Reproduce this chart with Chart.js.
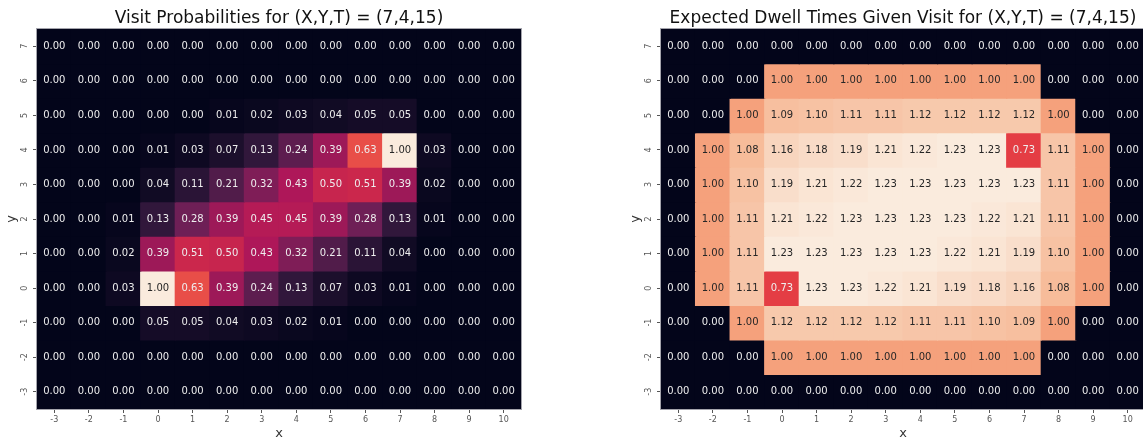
<!DOCTYPE html>
<html>
<head>
<meta charset="utf-8">
<script src="https://cdn.jsdelivr.net/npm/chart.js@4"></script>
<style>
  body { margin: 0; width: 1143px; height: 441px; overflow: hidden; background: #fff; position: relative; }
  .box { position: absolute; top: 0; height: 441px; }
</style>
</head>
<body>
<div class="box" style="left:0;width:560px"><canvas id="probChart" width="560" height="441"></canvas></div>
<div class="box" style="left:610px;width:535px"><canvas id="dwellChart" width="535" height="441"></canvas></div>
<script>
// grid labels
const xLabels = ["-3", "-2", "-1", "0", "1", "2", "3", "4", "5", "6", "7", "8", "9", "10"];
const yLabels = [7, 6, 5, 4, 3, 2, 1, 0, -1, -2, -3];

// visit probabilities, rows from y=7 down to y=-3
const visitProb = [
  [0, 0, 0, 0, 0, 0, 0, 0, 0, 0, 0, 0, 0, 0],
  [0, 0, 0, 0, 0, 0, 0, 0, 0, 0, 0, 0, 0, 0],
  [0, 0, 0, 0, 0, 0.01, 0.02, 0.03, 0.04, 0.05, 0.05, 0, 0, 0],
  [0, 0, 0, 0.01, 0.03, 0.07, 0.13, 0.24, 0.39, 0.63, 1.00, 0.03, 0, 0],
  [0, 0, 0, 0.04, 0.11, 0.21, 0.32, 0.43, 0.50, 0.51, 0.39, 0.02, 0, 0],
  [0, 0, 0.01, 0.13, 0.28, 0.39, 0.45, 0.45, 0.39, 0.28, 0.13, 0.01, 0, 0],
  [0, 0, 0.02, 0.39, 0.51, 0.50, 0.43, 0.32, 0.21, 0.11, 0.04, 0, 0, 0],
  [0, 0, 0.03, 1.00, 0.63, 0.39, 0.24, 0.13, 0.07, 0.03, 0.01, 0, 0, 0],
  [0, 0, 0, 0.05, 0.05, 0.04, 0.03, 0.02, 0.01, 0, 0, 0, 0, 0],
  [0, 0, 0, 0, 0, 0, 0, 0, 0, 0, 0, 0, 0, 0],
  [0, 0, 0, 0, 0, 0, 0, 0, 0, 0, 0, 0, 0, 0]
];

// expected dwell times given visit
const dwellTime = [
  [0, 0, 0, 0, 0, 0, 0, 0, 0, 0, 0, 0, 0, 0],
  [0, 0, 0, 1.00, 1.00, 1.00, 1.00, 1.00, 1.00, 1.00, 1.00, 0, 0, 0],
  [0, 0, 1.00, 1.09, 1.10, 1.11, 1.11, 1.12, 1.12, 1.12, 1.12, 1.00, 0, 0],
  [0, 1.00, 1.08, 1.16, 1.18, 1.19, 1.21, 1.22, 1.23, 1.23, 0.73, 1.11, 1.00, 0],
  [0, 1.00, 1.10, 1.19, 1.21, 1.22, 1.23, 1.23, 1.23, 1.23, 1.23, 1.11, 1.00, 0],
  [0, 1.00, 1.11, 1.21, 1.22, 1.23, 1.23, 1.23, 1.23, 1.22, 1.21, 1.11, 1.00, 0],
  [0, 1.00, 1.11, 1.23, 1.23, 1.23, 1.23, 1.23, 1.22, 1.21, 1.19, 1.10, 1.00, 0],
  [0, 1.00, 1.11, 0.73, 1.23, 1.23, 1.22, 1.21, 1.19, 1.18, 1.16, 1.08, 1.00, 0],
  [0, 0, 1.00, 1.12, 1.12, 1.12, 1.12, 1.11, 1.11, 1.10, 1.09, 1.00, 0, 0],
  [0, 0, 0, 1.00, 1.00, 1.00, 1.00, 1.00, 1.00, 1.00, 1.00, 0, 0, 0],
  [0, 0, 0, 0, 0, 0, 0, 0, 0, 0, 0, 0, 0, 0]
];

// rocket colormap anchors
const rocketStops = [
  [0, [3, 5, 26]],
  [1 / 7, [53, 25, 62]],
  [2 / 7, [112, 31, 87]],
  [3 / 7, [173, 23, 89]],
  [4 / 7, [225, 51, 66]],
  [5 / 7, [243, 118, 81]],
  [6 / 7, [246, 180, 143]],
  [1, [250, 235, 221]]
];

function rocket(t) {
  t = Math.max(0, Math.min(1, t));
  for (let i = 1; i < rocketStops.length; i++) {
    const [t1, c1] = rocketStops[i];
    const [t0, c0] = rocketStops[i - 1];
    if (t <= t1) {
      const f = (t - t0) / (t1 - t0);
      return c0.map((c, k) => Math.round(c + (c1[k] - c) * f));
    }
  }
  return rocketStops[rocketStops.length - 1][1];
}

function css(rgb) {
  return `rgb(${rgb[0]},${rgb[1]},${rgb[2]})`;
}

function textColor(rgb) {
  const lin = rgb.map(c => {
    c = c / 255;
    return c <= 0.03928 ? c / 12.92 : Math.pow((c + 0.055) / 1.055, 2.4);
  });
  const lum = 0.2126 * lin[0] + 0.7152 * lin[1] + 0.0722 * lin[2];
  return lum > 0.408 ? "#262626" : "#eeeeee";
}

const heatLabels = {
  id: "heatLabels",
  afterDatasetsDraw(chart, args, opts) {
    const { ctx, chartArea } = chart;
    const x = chart.scales.x, y = chart.scales.y;
    ctx.save();
    ctx.textAlign = "center";
    ctx.textBaseline = "middle";
    ctx.font = '10px "DejaVu Sans"';
    yLabels.forEach((yv, r) => {
      opts.grid[r].forEach((v, c) => {
        ctx.fillStyle = textColor(rocket(v / opts.vmax));
        ctx.fillText(v.toFixed(2), x.getPixelForValue(c), y.getPixelForValue(yv));
      });
    });
    // rotated y tick labels
    ctx.font = '8px "DejaVu Sans"';
    ctx.fillStyle = "#555";
    yLabels.forEach(yv => {
      ctx.save();
      ctx.translate(chartArea.left - 12, y.getPixelForValue(yv));
      ctx.rotate(-Math.PI / 2);
      ctx.fillText(String(yv), 0, 0);
      ctx.restore();
    });
    ctx.strokeStyle = "#a4a4ac";
    ctx.lineWidth = 1;
    ctx.strokeRect(chartArea.left - 0.5, chartArea.top - 0.5, chartArea.width + 1, chartArea.height + 1);
    ctx.restore();
  }
};

function drawHeatmap(canvasId, grid, title, padLeft, padRight) {
  const vmax = Math.max(...grid.flat());
  const datasets = yLabels.map((yv, r) => ({
    data: grid[r].map(() => [yv - 0.5, yv + 0.5]),
    backgroundColor: grid[r].map(v => css(rocket(v / vmax))),
    borderWidth: 0,
    inflateAmount: 0.6
  }));

  return new Chart(document.getElementById(canvasId), {
    type: "bar",
    data: { labels: xLabels, datasets: datasets },
    plugins: [heatLabels],
    options: {
      responsive: false,
      animation: false,
      layout: { padding: { left: padLeft, right: padRight, top: 0, bottom: 0 } },
      datasets: { bar: { barPercentage: 1, categoryPercentage: 1, grouped: false } },
      plugins: {
        legend: { display: false },
        tooltip: { enabled: false },
        title: {
          display: true,
          text: title,
          fullSize: false,
          color: "#111",
          font: { family: "DejaVu Sans", size: 17, weight: "normal", lineHeight: "20px" },
          padding: { top: 9, bottom: 0 }
        },
        heatLabels: { grid: grid, vmax: vmax }
      },
      scales: {
        x: {
          offset: true,
          grid: { display: true, offset: false, drawOnChartArea: false, tickLength: 4, color: "#555" },
          border: { display: false },
          ticks: { color: "#555", font: { family: "DejaVu Sans", size: 8 }, padding: 2, maxRotation: 0 },
          title: { display: true, text: "x", color: "#333", font: { family: "DejaVu Sans", size: 13 }, padding: { top: 0, bottom: 0 } },
          afterFit: scale => { scale.height = 32; }
        },
        y: {
          min: -3.5,
          max: 7.5,
          afterBuildTicks: scale => { scale.ticks = yLabels.map(v => ({ value: v })); },
          grid: { display: true, drawOnChartArea: false, tickLength: 4, color: "#555" },
          border: { display: false },
          ticks: { display: false },
          title: { display: true, text: "y", color: "#333", font: { family: "DejaVu Sans", size: 13 }, padding: { top: 4, bottom: 0 } },
          afterFit: scale => { scale.width = 37; }
        }
      }
    }
  });
}

drawHeatmap("probChart", visitProb, "Visit Probabilities for (X,Y,T) = (7,4,15)", 0, 39);
drawHeatmap("dwellChart", dwellTime, "Expected Dwell Times Given Visit for (X,Y,T) = (7,4,15)", 14, 0);
</script>
</body>
</html>
